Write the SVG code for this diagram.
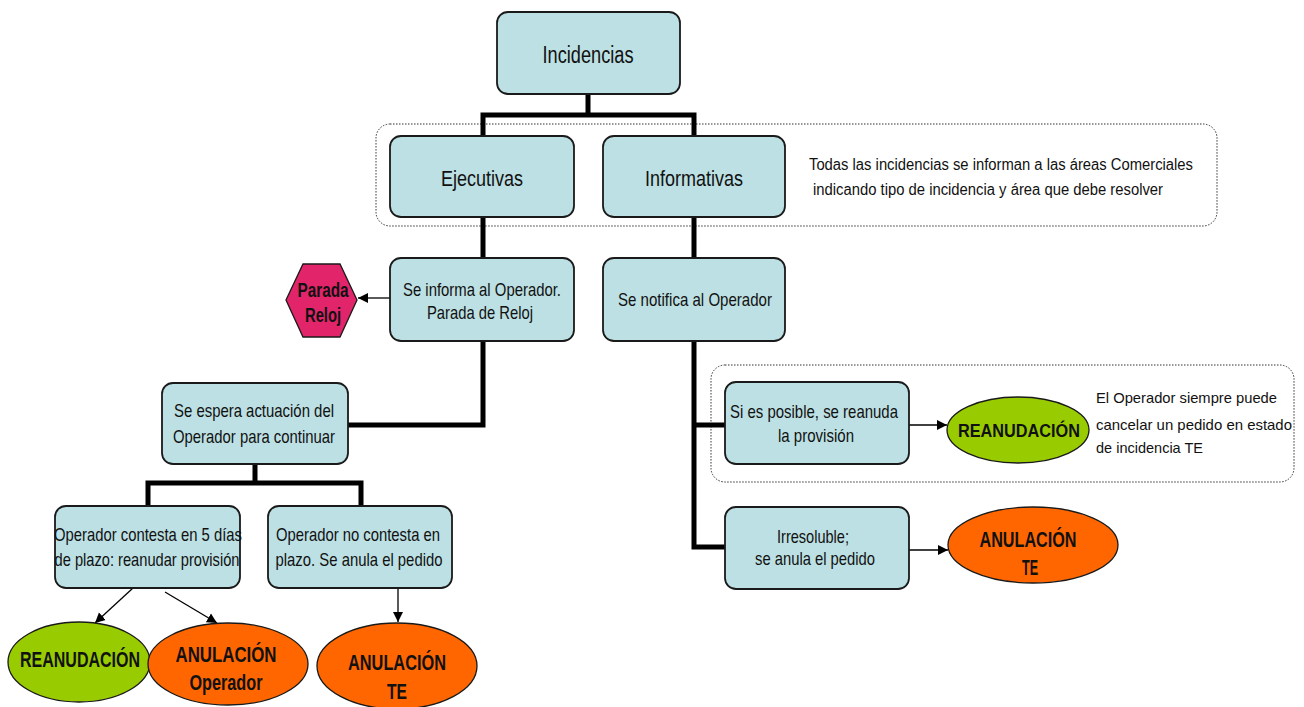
<svg xmlns="http://www.w3.org/2000/svg" width="1304" height="707" viewBox="0 0 1304 707">
<defs>
<marker id="ah" viewBox="0 0 10 10" refX="10" refY="5" markerWidth="10" markerHeight="11" markerUnits="userSpaceOnUse" orient="auto">
<path d="M0,0 L10,5 L0,10 z" fill="#000"/>
</marker>
</defs>
<style>
.box{fill:#BCE0E3;stroke:#1a1a1a;stroke-width:1.8}
.t{font-family:"Liberation Sans",Arial,sans-serif;font-size:19px;fill:#111;text-anchor:middle}
.tl{font-family:"Liberation Sans",Arial,sans-serif;font-size:16px;fill:#111}
.b{font-family:"Liberation Sans",Arial,sans-serif;font-size:22px;font-weight:bold;fill:#111;text-anchor:middle}
.thick{fill:none;stroke:#000;stroke-width:5}
.thin{fill:none;stroke:#000;stroke-width:1.3;marker-end:url(#ah)}
.dot{fill:none;stroke:#333;stroke-width:1;stroke-dasharray:1.5 1.5}
.green{fill:#99CC00;stroke:#1a1a1a;stroke-width:1.3}
.orange{fill:#FF6600;stroke:#1a1a1a;stroke-width:1.3}
</style>
<rect x="0" y="0" width="1304" height="707" fill="#fff"/>

<g id="groups">
<rect class="dot" x="376" y="124" width="841" height="102" rx="14"/>
<rect class="dot" x="711" y="365" width="583" height="117" rx="14"/>
</g>

<g id="connectors">
<path class="thick" d="M588,94 V115 M483,115 H694 M483,112.5 V136 M694,112.5 V136"/>
<path class="thick" d="M483,217 V258 M694,217 V258"/>
<path class="thick" d="M483,341 V425 H348"/>
<path class="thick" d="M255,464 V483 M148,483 H361 M148,480.5 V506 M361,480.5 V506"/>
<path class="thick" d="M694,341 V547 H725 M694,425 H725"/>
<line class="thin" x1="390" y1="298" x2="358" y2="298"/>
<line class="thin" x1="133" y1="588" x2="95" y2="623"/>
<line class="thin" x1="165" y1="592" x2="217" y2="623"/>
<line class="thin" x1="398" y1="588" x2="398" y2="622"/>
<line class="thin" x1="909" y1="425" x2="947" y2="425"/>
<line class="thin" x1="909" y1="550" x2="948" y2="550"/>
</g>

<g id="incidencias">
<rect class="box" x="497" y="12" width="183" height="82" rx="11"/>
<text class="t" x="588" y="63" style="font-size:23px" textLength="91" lengthAdjust="spacingAndGlyphs">Incidencias</text>
</g>

<g id="ejecutivas">
<rect class="box" x="390" y="136" width="184" height="81" rx="11"/>
<text class="t" x="482" y="186" style="font-size:22px" textLength="82" lengthAdjust="spacingAndGlyphs">Ejecutivas</text>
</g>

<g id="informativas">
<rect class="box" x="603" y="136" width="182" height="81" rx="11"/>
<text class="t" x="694" y="186" style="font-size:22px" textLength="98" lengthAdjust="spacingAndGlyphs">Informativas</text>
</g>

<g id="nota-comerciales">
<text class="tl" x="809" y="170" textLength="384" lengthAdjust="spacingAndGlyphs">Todas las incidencias se informan a las áreas Comerciales</text>
<text class="tl" x="813" y="195" textLength="350" lengthAdjust="spacingAndGlyphs">indicando tipo de incidencia y área que debe resolver</text>
</g>

<g id="se-informa">
<rect class="box" x="390" y="258" width="184" height="83" rx="11"/>
<text class="t" x="482" y="296" textLength="158" lengthAdjust="spacingAndGlyphs">Se informa al Operador.</text>
<text class="t" x="480" y="319" textLength="106" lengthAdjust="spacingAndGlyphs">Parada de Reloj</text>
</g>

<g id="parada-reloj">
<polygon points="286,300 303,264 340,264 357,300 340,337 303,337" fill="#E2246A" stroke="#1a1a1a" stroke-width="1.3"/>
<text class="b" x="323" y="297" style="font-size:20px" textLength="51" lengthAdjust="spacingAndGlyphs">Parada</text>
<text class="b" x="323" y="322" style="font-size:20px" textLength="36" lengthAdjust="spacingAndGlyphs">Reloj</text>
</g>

<g id="se-notifica">
<rect class="box" x="603" y="258" width="182" height="83" rx="11"/>
<text class="t" x="695" y="306" textLength="154" lengthAdjust="spacingAndGlyphs">Se notifica al Operador</text>
</g>

<g id="se-espera">
<rect class="box" x="162" y="383" width="186" height="81" rx="11"/>
<text class="t" x="254" y="417" textLength="160" lengthAdjust="spacingAndGlyphs">Se espera actuación del</text>
<text class="t" x="254" y="443" textLength="162" lengthAdjust="spacingAndGlyphs">Operador para continuar</text>
</g>

<g id="operador-contesta">
<rect class="box" x="55" y="506" width="185" height="82" rx="11"/>
<text class="t" x="148" y="541" textLength="188" lengthAdjust="spacingAndGlyphs">Operador contesta en 5 días</text>
<text class="t" x="147" y="566" textLength="185" lengthAdjust="spacingAndGlyphs">de plazo: reanudar provisión</text>
</g>

<g id="operador-no-contesta">
<rect class="box" x="268" y="506" width="184" height="82" rx="11"/>
<text class="t" x="358" y="541" textLength="164" lengthAdjust="spacingAndGlyphs">Operador no contesta en</text>
<text class="t" x="359" y="566" textLength="167" lengthAdjust="spacingAndGlyphs">plazo. Se anula el pedido</text>
</g>

<g id="reanudacion-1">
<ellipse class="green" cx="79" cy="662" rx="71" ry="40"/>
<text class="b" x="80" y="667" textLength="120" lengthAdjust="spacingAndGlyphs">REANUDACIÓN</text>
</g>

<g id="anulacion-operador">
<ellipse class="orange" cx="228" cy="664" rx="80" ry="41"/>
<text class="b" x="226" y="662" textLength="101" lengthAdjust="spacingAndGlyphs">ANULACIÓN</text>
<text class="b" x="226" y="690" textLength="73" lengthAdjust="spacingAndGlyphs">Operador</text>
</g>

<g id="anulacion-te-1">
<ellipse class="orange" cx="397" cy="666" rx="80" ry="43"/>
<text class="b" x="397" y="670" textLength="98" lengthAdjust="spacingAndGlyphs">ANULACIÓN</text>
<text class="b" x="397" y="699" textLength="20" lengthAdjust="spacingAndGlyphs">TE</text>
</g>

<g id="si-es-posible">
<rect class="box" x="725" y="382" width="184" height="82" rx="11"/>
<text class="t" x="814" y="418" textLength="168" lengthAdjust="spacingAndGlyphs">Si es posible, se reanuda</text>
<text class="t" x="816" y="442" textLength="76" lengthAdjust="spacingAndGlyphs">la provisión</text>
</g>

<g id="reanudacion-2">
<ellipse class="green" cx="1018" cy="430" rx="71" ry="33"/>
<text class="b" x="1019" y="437" style="font-size:19px" textLength="122" lengthAdjust="spacingAndGlyphs">REANUDACIÓN</text>
</g>

<g id="nota-cancelar">
<text class="tl" x="1096" y="403" style="font-size:15px" textLength="181" lengthAdjust="spacingAndGlyphs">El Operador siempre puede</text>
<text class="tl" x="1096" y="430" style="font-size:15px" textLength="196" lengthAdjust="spacingAndGlyphs">cancelar un pedido en estado</text>
<text class="tl" x="1096" y="453" style="font-size:15px" textLength="107" lengthAdjust="spacingAndGlyphs">de incidencia TE</text>
</g>

<g id="irresoluble">
<rect class="box" x="725" y="507" width="184" height="82" rx="11"/>
<text class="t" x="813" y="543" textLength="72" lengthAdjust="spacingAndGlyphs">Irresoluble;</text>
<text class="t" x="815" y="565" textLength="120" lengthAdjust="spacingAndGlyphs">se anula el pedido</text>
</g>

<g id="anulacion-te-2">
<ellipse class="orange" cx="1033" cy="545" rx="85" ry="38"/>
<text class="b" x="1028" y="547" textLength="97" lengthAdjust="spacingAndGlyphs">ANULACIÓN</text>
<text class="b" x="1030" y="575" textLength="16" lengthAdjust="spacingAndGlyphs">TE</text>
</g>
</svg>
